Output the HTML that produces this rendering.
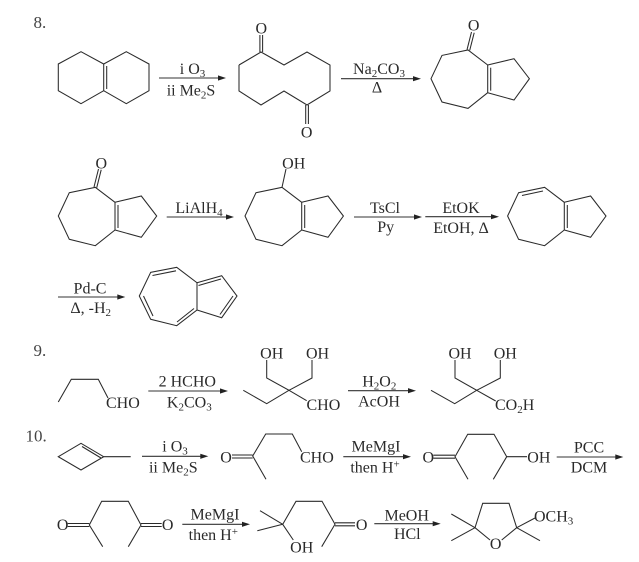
<!DOCTYPE html>
<html>
<head>
<meta charset="utf-8">
<style>
html,body{margin:0;padding:0;background:#fff;width:639px;height:562px;overflow:hidden}
svg{display:block;filter:blur(0.25px)}
.b{fill:none;stroke:#2a2a2a;stroke-width:1.05;stroke-linejoin:miter}
.a{fill:none;stroke:#333;stroke-width:1.1}
.h{fill:#222;stroke:none}
text{font-family:"Liberation Serif",serif;font-size:16px;fill:#2a2a2a}
.m{text-anchor:middle}
.n{font-size:17px;fill:#444}
.s{font-size:11px}
</style>
</head>
<body>
<svg width="639" height="562" viewBox="0 0 639 562" xmlns="http://www.w3.org/2000/svg">
<defs>
<g id="bicyc" class="b">
<polyline points="115,202.3 95.3,187.3 69.3,192.7 58.3,216 69.3,239.3 95.3,245.7 115,230"/>
<polyline points="115,202.3 141.3,196 156.7,216 141.3,237.3 115,230"/>
<line x1="115" y1="202.3" x2="115" y2="230"/>
<line x1="118" y1="205" x2="118" y2="228"/>
</g>
</defs>

<!-- labels -->
<text class="n" x="33.5" y="28">8.</text>
<text class="n" x="33.5" y="356">9.</text>
<text class="n" x="25.5" y="441.7">10.</text>

<!-- Row 1 -->
<g class="b">
<polyline points="103.7,64 81,51.7 58.3,64 58.3,90.7 81,103.7 103.7,90.7 126.3,103.7 149,90.7 149,64 126.3,51.7 103.7,64"/>
<line x1="103.7" y1="64" x2="103.7" y2="90.7"/>
<line x1="106.7" y1="66" x2="106.7" y2="89"/>
</g>
<path class="a" d="M159 78H220"/><path class="h" d="M226 78l-8-2.6v5.2z"/>
<text class="m" x="192.5" y="74">i O<tspan class="s" dy="3">3</tspan></text>
<text class="m" x="191" y="95.5">ii Me<tspan class="s" dy="3">2</tspan><tspan dy="-3">S</tspan></text>

<g class="b">
<polyline points="239,65 239,91 261,105 284,91 307,105 330,91 330,65 307,52 284,65 261,52 239,65"/>
<line x1="259.9" y1="35" x2="259.9" y2="52"/>
<line x1="262.6" y1="35" x2="262.6" y2="52"/>
<line x1="305.7" y1="105" x2="305.7" y2="124"/>
<line x1="308.4" y1="105" x2="308.4" y2="124"/>
</g>
<text class="m" x="261.3" y="33.5">O</text>
<text class="m" x="306.7" y="137.3">O</text>

<path class="a" d="M341 78.7H415"/><path class="h" d="M421 78.7l-8-2.6v5.2z"/>
<text class="m" x="379" y="74">Na<tspan class="s" dy="3">2</tspan><tspan dy="-3">CO</tspan><tspan class="s" dy="3">3</tspan></text>
<text class="m" x="377" y="92.5">Δ</text>

<use href="#bicyc" x="372.7" y="-137.3"/>
<g class="b">
<line x1="467" y1="49.7" x2="471.5" y2="32"/>
<line x1="469.7" y1="50.4" x2="474.2" y2="32.7"/>
</g>
<text class="m" x="473.7" y="30.5">O</text>

<!-- Row 2 -->
<use href="#bicyc"/>
<g class="b">
<line x1="94" y1="187" x2="98.5" y2="169"/>
<line x1="96.7" y1="187.7" x2="101.2" y2="169.7"/>
</g>
<text class="m" x="101.3" y="168.7">O</text>

<path class="a" d="M166.7 217H228"/><path class="h" d="M234 217l-8-2.6v5.2z"/>
<text class="m" x="199" y="213">LiAlH<tspan class="s" dy="3">4</tspan></text>

<use href="#bicyc" x="186.7"/>
<line class="b" x1="282" y1="187.3" x2="286" y2="169"/>
<text class="m" x="293.7" y="168.7">OH</text>

<path class="a" d="M354 217H416"/><path class="h" d="M422 217l-8-2.6v5.2z"/>
<text class="m" x="385" y="213">TsCl</text>
<text class="m" x="385.7" y="232">Py</text>

<path class="a" d="M425.3 216.7H493"/><path class="h" d="M499 216.7l-8-2.6v5.2z"/>
<text class="m" x="461" y="213">EtOK</text>
<text class="m" x="461" y="233">EtOH, Δ</text>

<use href="#bicyc" x="449.3"/>
<line class="b" x1="522" y1="195.5" x2="543" y2="191"/>

<!-- Row 3 -->
<path class="a" d="M58 297H119.5"/><path class="h" d="M125.3 297l-8-2.6v5.2z"/>
<text class="m" x="90" y="293.3">Pd-C</text>
<text class="m" x="90.7" y="313">Δ, -H<tspan class="s" dy="3">2</tspan></text>

<g class="b">
<polygon points="139.3,296 150.7,272.3 176.7,267.3 197,282.7 197,310 176.7,325.7 150.7,319.3"/>
<polyline points="197,282.7 221.7,275.7 237,296 221.7,317.7 197,310"/>
<line x1="152.5" y1="275.5" x2="176" y2="270.8"/>
<line x1="143.5" y1="296" x2="153" y2="316"/>
<line x1="177" y1="322" x2="194" y2="308.5"/>
<line x1="198.5" y1="285.5" x2="221" y2="279"/>
<line x1="233" y1="296" x2="220" y2="314.5"/>
</g>

<!-- Reaction 9 -->
<polyline class="b" points="58.3,402 71.3,379.3 98.3,379.3 108,398"/>
<text x="106" y="408">CHO</text>

<path class="a" d="M148.3 391H222"/><path class="h" d="M228 391l-8-2.6v5.2z"/>
<text class="m" x="187.3" y="386.7">2 HCHO</text>
<text class="m" x="189.3" y="407.3">K<tspan class="s" dy="3">2</tspan><tspan dy="-3">CO</tspan><tspan class="s" dy="3">3</tspan></text>

<g class="b">
<polyline points="243.3,390.3 266.7,403.7 289,390.3 266.7,378 266.7,360"/>
<polyline points="289,390.3 312,378 312,360"/>
<line x1="289" y1="390.3" x2="306.7" y2="400.7"/>
</g>
<text class="m" x="271.7" y="358.7">OH</text>
<text class="m" x="317.5" y="358.7">OH</text>
<text x="306.5" y="410">CHO</text>

<path class="a" d="M348 390.7H410"/><path class="h" d="M416 390.7l-8-2.6v5.2z"/>
<text class="m" x="379.3" y="386.7">H<tspan class="s" dy="3">2</tspan><tspan dy="-3">O</tspan><tspan class="s" dy="3">2</tspan></text>
<text class="m" x="379" y="406.7">AcOH</text>

<g class="b">
<polyline points="431,390.3 454.7,403.7 476.7,390.3 455,378 455,360"/>
<polyline points="476.7,390.3 500.3,378 500.3,360"/>
<line x1="476.7" y1="390.3" x2="495.7" y2="401"/>
</g>
<text class="m" x="460" y="358.7">OH</text>
<text class="m" x="505.3" y="358.7">OH</text>
<text x="495" y="410">CO<tspan class="s" dy="3">2</tspan><tspan dy="-3">H</tspan></text>

<!-- Reaction 10 row 1 -->
<g class="b">
<polygon points="58.3,456.7 81,443.3 103.7,456.7 81,470"/>
<line x1="103.7" y1="456.7" x2="130.7" y2="456.7"/>
<line x1="82" y1="446.5" x2="101" y2="458"/>
</g>
<path class="a" d="M142 456.3H202.5"/><path class="h" d="M208.3 456.3l-8-2.6v5.2z"/>
<text class="m" x="175" y="451.7">i O<tspan class="s" dy="3">3</tspan></text>
<text class="m" x="173.3" y="472.3">ii Me<tspan class="s" dy="3">2</tspan><tspan dy="-3">S</tspan></text>

<g class="b">
<line x1="232" y1="455" x2="252.7" y2="455"/>
<line x1="232" y1="458" x2="252.7" y2="458"/>
<polyline points="266,479.3 252.7,456 265.7,434 292.3,434 301.7,451.7"/>
</g>
<text class="m" x="226" y="462.7">O</text>
<text x="300" y="462.7">CHO</text>

<path class="a" d="M343.3 456.7H405"/><path class="h" d="M411 456.7l-8-2.6v5.2z"/>
<text class="m" x="376" y="451.7">MeMgI</text>
<text class="m" x="375" y="472.7">then H<tspan class="s" dy="-5">+</tspan></text>

<g class="b">
<line x1="433.3" y1="455.2" x2="455" y2="455.2"/>
<line x1="433.3" y1="458.2" x2="455" y2="458.2"/>
<polyline points="468,479.3 455,456.7 467.7,434.3 494,434.3 506.7,456.7 493.3,479.3"/>
<line x1="506.7" y1="456.7" x2="527" y2="456.7"/>
</g>
<text class="m" x="428.3" y="462.7">O</text>
<text x="527.3" y="462.7">OH</text>

<path class="a" d="M556.7 457H617.5"/><path class="h" d="M623.3 457l-8-2.6v5.2z"/>
<text class="m" x="589" y="452.7">PCC</text>
<text class="m" x="589" y="472.7">DCM</text>

<!-- Reaction 10 row 2 -->
<g class="b">
<line x1="67.7" y1="523.5" x2="89.3" y2="523.5"/>
<line x1="67.7" y1="526.5" x2="89.3" y2="526.5"/>
<polyline points="102.7,546.7 89.3,525 101.7,501.3 128.3,501.3 141,525 128.3,546.7"/>
<line x1="141" y1="523.5" x2="161.7" y2="523.5"/>
<line x1="141" y1="526.5" x2="161.7" y2="526.5"/>
</g>
<text class="m" x="62.7" y="530">O</text>
<text class="m" x="167.7" y="530">O</text>

<path class="a" d="M182.3 524.3H244"/><path class="h" d="M250 524.3l-8-2.6v5.2z"/>
<text class="m" x="215" y="519.3">MeMgI</text>
<text class="m" x="213.3" y="540">then H<tspan class="s" dy="-5">+</tspan></text>

<g class="b">
<line x1="260" y1="510.7" x2="282.7" y2="524.3"/>
<line x1="257.3" y1="530.7" x2="282.7" y2="524.3"/>
<polyline points="293.3,540 282.7,524.3 296,501.3 322,501.3 335,524.3 321.7,546.7"/>
<line x1="335" y1="522.8" x2="355" y2="522.8"/>
<line x1="335" y1="525.8" x2="355" y2="525.8"/>
</g>
<text class="m" x="301.7" y="552.7">OH</text>
<text class="m" x="361.7" y="530">O</text>

<path class="a" d="M374.3 523.7H435"/><path class="h" d="M440.7 523.7l-8-2.6v5.2z"/>
<text class="m" x="406.7" y="520.7">MeOH</text>
<text class="m" x="407.3" y="539">HCl</text>

<g class="b">
<polyline points="490,540 475,527.7 482.7,503.3 509,503.3 516.7,527.7 501.7,540"/>
<line x1="451.3" y1="514" x2="475" y2="527.7"/>
<line x1="451.3" y1="540.7" x2="475" y2="527.7"/>
<line x1="516.7" y1="527.7" x2="540" y2="540.7"/>
<line x1="516.7" y1="527.7" x2="535" y2="518"/>
</g>
<text class="m" x="495.7" y="549">O</text>
<text x="534" y="521.7">OCH<tspan class="s" dy="3">3</tspan></text>
</svg>
</body>
</html>
